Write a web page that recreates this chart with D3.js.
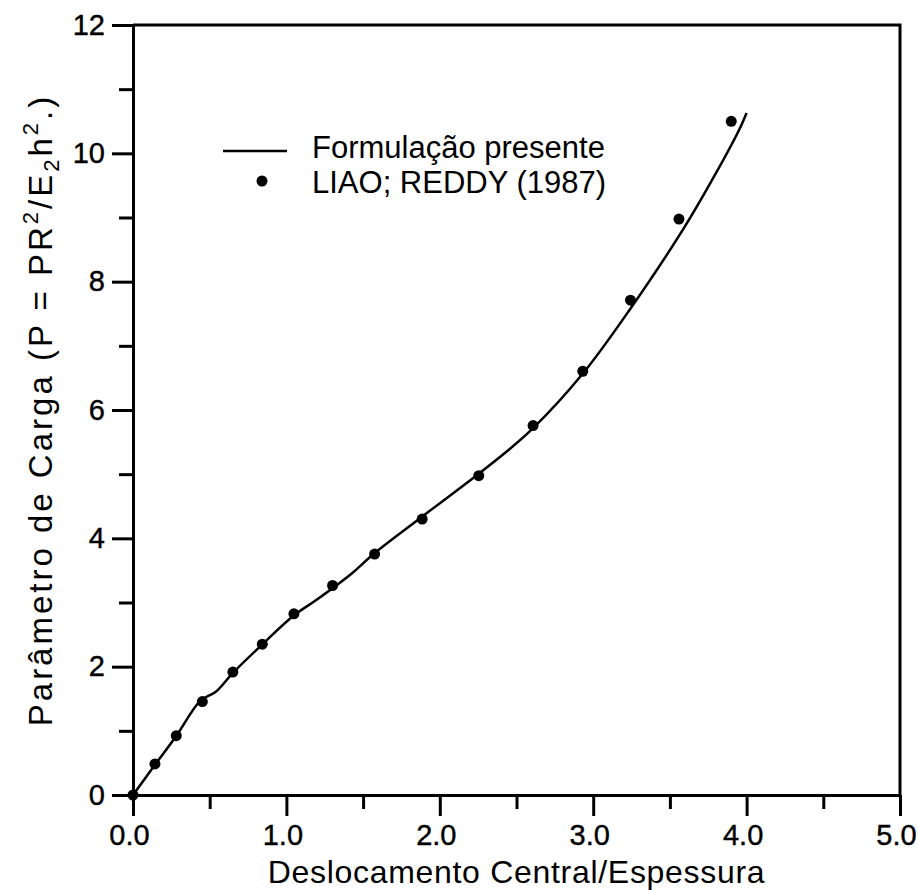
<!DOCTYPE html>
<meta charset="utf-8">

<!-- Load d3.js -->
<script src="https://d3js.org/d3.v7.min.js"></script>

<div id="my_dataviz"></div>

<style>
  body { margin: 0; background: #fff; }
  #my_dataviz text { font-family: "Liberation Sans", Arial, sans-serif; fill: #000; }
</style>

<script>
  // Curve of the present formulation
  var curveX = [0, 0.143, 0.282, 0.44, 0.54, 0.65, 0.84, 1.05, 1.19, 1.42, 1.57, 1.88, 2.25, 2.44, 2.61, 2.93, 3.24, 3.59, 3.80, 3.95, 4.00];
  var curveY = [0, 0.47, 0.92, 1.47, 1.61, 1.90, 2.34, 2.80, 3.03, 3.44, 3.76, 4.33, 5.00, 5.36, 5.72, 6.56, 7.57, 8.83, 9.69, 10.36, 10.63];

  // LIAO; REDDY (1987) points
  var refX = [0, 0.143, 0.282, 0.452, 0.651, 0.843, 1.049, 1.301, 1.575, 1.885, 2.254, 2.608, 2.932, 3.243, 3.559, 3.900];
  var refY = [0, 0.484, 0.925, 1.456, 1.915, 2.351, 2.824, 3.265, 3.755, 4.301, 4.977, 5.757, 6.604, 7.711, 8.975, 10.499];

  // Tick values
  var xTicks = [0, 1, 2, 3, 4, 5];
  var xMinor = [0.5, 1.5, 2.5, 3.5, 4.5];
  var yTicks = [0, 2, 4, 6, 8, 10, 12];
  var yMinor = [1, 3, 5, 7, 9, 11];

  var legendLabels = ["Formulação presente", "LIAO; REDDY (1987)"];

  // Dimensions and margins of graph
  var margin = {top: 25, right: 18, bottom: 95, left: 133},
    width = 918 - margin.left - margin.right,
    height = 890 - margin.top - margin.bottom;

  var svg = d3.select("#my_dataviz")
    .append("svg")
      .attr("width", 918)
      .attr("height", 890)
    .append("g")
      .attr("transform", "translate(" + margin.left + "," + margin.top + ")");

  var x = d3.scaleLinear().domain([0, 5]).range([0, width]);
  var y = d3.scaleLinear().domain([0, 12]).range([height, 0]);

  // X axis: major ticks with labels, then minor ticks
  var xAxis = svg.append("g")
    .attr("class", "axis")
    .attr("transform", "translate(0," + height + ")")
    .call(d3.axisBottom(x).tickValues(xTicks).tickFormat(d3.format(".1f"))
      .tickSize(21).tickSizeOuter(0).tickPadding(8));
  xAxis.selectAll("text").attr("dx", -4);
  svg.append("g")
    .attr("class", "axis")
    .attr("transform", "translate(0," + height + ")")
    .call(d3.axisBottom(x).tickValues(xMinor).tickFormat("").tickSize(14).tickSizeOuter(0));

  // Y axis
  svg.append("g")
    .attr("class", "axis")
    .call(d3.axisLeft(y).tickValues(yTicks).tickFormat(d3.format("d"))
      .tickSize(21).tickSizeOuter(0).tickPadding(7));
  svg.append("g")
    .attr("class", "axis")
    .call(d3.axisLeft(y).tickValues(yMinor).tickFormat("").tickSize(14).tickSizeOuter(0));

  svg.selectAll(".axis path, .axis line")
    .attr("stroke", "#000")
    .attr("stroke-width", 3);
  svg.selectAll(".axis text")
    .attr("font-size", 29)
    .attr("stroke", "#000")
    .attr("stroke-width", 0.4);

  // Top and right of the frame
  svg.append("path")
    .attr("fill", "none")
    .attr("stroke", "#000")
    .attr("stroke-width", 3)
    .attr("d", "M" + x(0) + "," + y(12) + "H" + x(5) + "V" + y(0));

  // Axis titles
  svg.append("text")
    .attr("text-anchor", "middle")
    .attr("x", width / 2)
    .attr("y", height + 88)
    .attr("font-size", 32)
    .attr("letter-spacing", 0.7)
    .text("Deslocamento Central/Espessura");

  var yTitle = svg.append("text")
    .attr("text-anchor", "middle")
    .attr("transform", "translate(" + (52 - margin.left) + "," + (410 - margin.top) + ") rotate(-90)")
    .attr("font-size", 33)
    .attr("letter-spacing", 3);
  yTitle.append("tspan").text("Parâmetro de Carga (P = PR");
  yTitle.append("tspan").attr("dy", -14).attr("font-size", 22).text("2");
  yTitle.append("tspan").attr("dy", 14).text("/E");
  yTitle.append("tspan").attr("dy", 7).attr("font-size", 22).text("2");
  yTitle.append("tspan").attr("dy", -7).text("h");
  yTitle.append("tspan").attr("dy", -14).attr("font-size", 22).text("2");
  yTitle.append("tspan").attr("dy", 14).text(".)");

  // The line
  var curveData = curveX.map(function(d, i) { return {x: d, y: curveY[i]}; });
  svg.append("path")
    .datum(curveData)
    .attr("fill", "none")
    .attr("stroke", "#000")
    .attr("stroke-width", 2.5)
    .attr("d", d3.line()
      .curve(d3.curveCatmullRom.alpha(0.5))
      .x(function(d) { return x(d.x) })
      .y(function(d) { return y(d.y) })
      );

  // The points
  var refData = refX.map(function(d, i) { return {x: d, y: refY[i]}; });
  svg.append("g")
    .selectAll("circle")
    .data(refData)
    .enter()
    .append("circle")
      .attr("cx", function(d) { return x(d.x) })
      .attr("cy", function(d) { return y(d.y) })
      .attr("r", 5.5)
      .attr("fill", "#000");

  // Legend
  var legend = svg.append("g")
    .attr("transform", "translate(" + (-margin.left) + "," + (-margin.top) + ")");
  legend.append("line")
    .attr("x1", 223).attr("x2", 287)
    .attr("y1", 151).attr("y2", 151)
    .attr("stroke", "#000")
    .attr("stroke-width", 2.5);
  legend.append("circle")
    .attr("cx", 262).attr("cy", 181)
    .attr("r", 5.5)
    .attr("fill", "#000");
  legend.selectAll("text.leg")
    .data(legendLabels)
    .enter()
    .append("text")
      .attr("class", "leg")
      .attr("x", 312)
      .attr("y", function(d, i) { return 158 + i * 35 })
      .attr("font-size", 31)
      .text(function(d) { return d });
</script>
